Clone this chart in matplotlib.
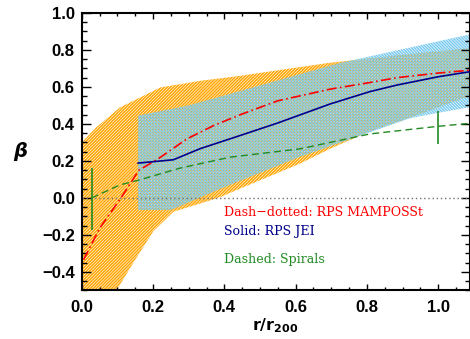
import numpy as np
import matplotlib
matplotlib.use("Agg")
import matplotlib.pyplot as plt
from matplotlib.ticker import MultipleLocator

# =============================================================================
# Data
# =============================================================================
# RPS MAMPOSSt (dash-dotted) profile
r_mam = [0.005, 0.05, 0.11, 0.16, 0.215, 0.295, 0.37, 0.445, 0.55, 0.697, 0.809, 0.884, 1.0, 1.088]
beta_mam = [-0.335, -0.165, 0.0, 0.149, 0.212, 0.319, 0.391, 0.45, 0.525, 0.588, 0.624, 0.65, 0.675, 0.69]

# MAMPOSSt uncertainty band (orange)
r_mam_up = [0.0, 0.04, 0.08, 0.107, 0.145, 0.22, 0.332, 0.444, 0.55, 0.697, 0.93, 1.088]
beta_mam_up = [0.30, 0.38, 0.445, 0.489, 0.525, 0.597, 0.633, 0.66, 0.69, 0.731, 0.78, 0.81]
r_mam_lo = [0.0, 0.05, 0.098, 0.145, 0.201, 0.257, 0.35, 0.39, 0.444, 0.612, 0.697, 0.809, 0.93, 1.088]
beta_mam_lo = [-1.2, -0.85, -0.5, -0.35, -0.18, -0.075, -0.02, 0.005, 0.05, 0.185, 0.266, 0.36, 0.44, 0.552]

# RPS JEI (solid) profile
r_jei = [0.158, 0.257, 0.332, 0.444, 0.55, 0.697, 0.809, 0.884, 1.0, 1.088]
beta_jei = [0.188, 0.206, 0.266, 0.337, 0.405, 0.508, 0.575, 0.61, 0.655, 0.682]

# JEI uncertainty band (light blue)
r_jei_up = [0.158, 0.3, 0.42, 0.725, 1.088]
beta_jei_up = [0.445, 0.5, 0.565, 0.73, 0.884]
r_jei_lo = [0.158, 0.25, 0.39, 0.61, 0.92, 1.0, 1.088]
beta_jei_lo = [-0.066, -0.066, 0.05, 0.22, 0.43, 0.46, 0.49]

# Spirals (dashed) profile and its two error bars
r_sp = [0.028, 0.107, 0.158, 0.276, 0.416, 0.612, 0.809, 1.0, 1.088]
beta_sp = [0.0, 0.07, 0.095, 0.161, 0.22, 0.265, 0.346, 0.387, 0.403]
r_sp_err = [0.028, 1.0]
beta_sp_err_lo = [-0.175, 0.29]
beta_sp_err_hi = [0.16, 0.47]

labels = ["Dash\u2212dotted: RPS MAMPOSSt", "Solid: RPS JEI", "Dashed: Spirals"]
label_colors = ["#ff0000", "#00008c", "#228b22"]

orange = "#ffa500"
skyblue = "#7ccbf0"

plt.rcParams['hatch.linewidth'] = 1.1

fig = plt.figure(figsize=(4.70, 3.39), dpi=100)
ax = fig.add_axes([0.174, 0.1437, 0.825, 0.818])


def band(ax, r_up, b_up, r_lo, b_lo, color, hatch):
    xs = np.concatenate([r_up, r_lo[::-1]])
    ys = np.concatenate([b_up, b_lo[::-1]])
    ax.fill(xs, ys, facecolor="none", edgecolor=color, hatch=hatch, linewidth=0, zorder=1)


band(ax, r_mam_up, beta_mam_up, r_mam_lo, beta_mam_lo, orange, "/" * 11)
band(ax, r_jei_up, beta_jei_up, r_jei_lo, beta_jei_lo, skyblue, "\\" * 11)

ax.axhline(0, color="#707070", linestyle=(0, (1, 2)), linewidth=1.0, zorder=2)

ax.plot(r_mam, beta_mam, color="#ff0000", linestyle=(0, (6, 2, 1, 2)), linewidth=1.2, zorder=3)
ax.plot(r_jei, beta_jei, color="#00008c", linestyle="-", linewidth=1.2, zorder=3)
ax.plot(r_sp, beta_sp, color="#228b22", linestyle=(0, (5, 3)), linewidth=1.0, zorder=3)
ax.vlines(r_sp_err, beta_sp_err_lo, beta_sp_err_hi, color="#228b22", linewidth=1.2, zorder=3)

# legend as coloured text lines
for txt, col, yy in zip(labels, label_colors, [0.28, 0.211, 0.112]):
    ax.text(0.368, yy, txt, color=col, transform=ax.transAxes, fontsize=9.1,
            family="DejaVu Serif", va="center", ha="left")

ax.set_xlim(0, 1.088)
ax.set_ylim(-0.5, 1.0)

ax.xaxis.set_major_locator(MultipleLocator(0.2))
ax.xaxis.set_minor_locator(MultipleLocator(0.05))
ax.yaxis.set_major_locator(MultipleLocator(0.2))
ax.yaxis.set_minor_locator(MultipleLocator(0.05))

ax.tick_params(axis='both', which='both', direction='in', top=True, right=True, width=1.0)
ax.tick_params(axis='x', which='major', length=4, pad=7)
ax.tick_params(axis='x', which='minor', length=2)
ax.tick_params(axis='y', which='major', length=6.5, pad=5)
ax.tick_params(axis='y', which='minor', length=3.5)

for lab in ax.get_xticklabels() + ax.get_yticklabels():
    lab.set_family("Liberation Sans")
    lab.set_fontweight("bold")
    lab.set_fontsize(12)

for sp in ax.spines.values():
    sp.set_linewidth(1.5)

ax.set_xlabel(r'$\mathbf{r/r_{200}}$', fontsize=11.5)
ax.xaxis.set_label_coords(0.5, -0.095)
ax.set_ylabel('β', fontsize=14, fontweight='bold', style='italic', rotation=0,
              ha='center', va='center')
ax.yaxis.set_label_coords(-0.16, 0.5)

fig.savefig("out.png", dpi=100)
